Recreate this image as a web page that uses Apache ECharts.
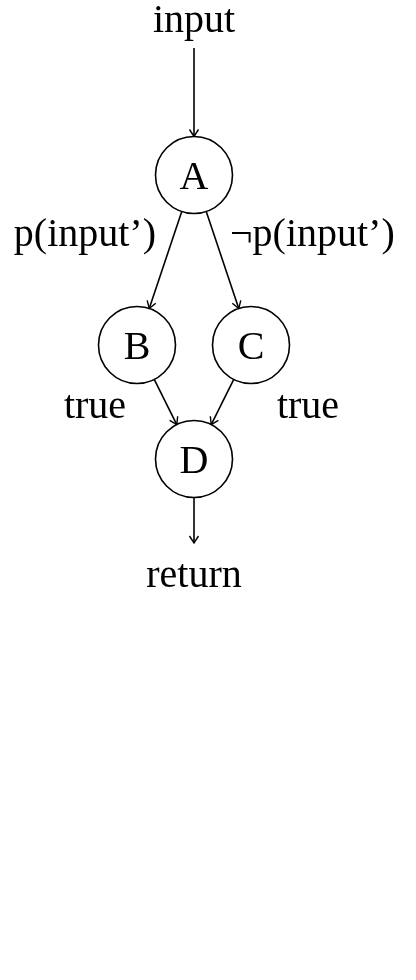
<!DOCTYPE html>
<html>
<head>
    <meta charset="utf-8">
    <title>flow</title>
    <script src="https://cdn.jsdelivr.net/npm/echarts@6/dist/echarts.min.js"></script>
    <style>
        html, body { margin: 0; padding: 0; background: #ffffff; }
        #chart { width: 416px; height: 980px; }
    </style>
</head>
<body>
<div id="chart"></div>
<script>
    // nodes of the flow (circles) and the two plain text ends
    var nodeNames = ['A', 'B', 'C', 'D'];
    var nodeX = [194, 137, 251, 194];
    var nodeY = [175, 345, 345, 459];

    var endNames = ['input', 'return'];
    var endX = [194, 194];
    var endY = [18, 573];

    // edges: from -> to
    var edgeFrom = ['input', 'A', 'A', 'B', 'C', 'D'];
    var edgeTo = ['A', 'B', 'C', 'D', 'D', 'return'];

    // edge labels
    var edgeLabelText = ['p(input\u2019)', '\u00acp(input\u2019)', 'true', 'true'];
    var edgeLabelX = [156, 230, 95, 308];
    var edgeLabelY = [232, 232, 404, 404];
    var edgeLabelAlign = ['right', 'left', 'center', 'center'];

    var FONT = '"Liberation Serif", "DejaVu Serif", serif';
    var FONT_SIZE = 40;
    var TEXT_SHIFT = 3;
    var R_NODE = 38.5;
    var R_END = 30;

    function findPoint(name) {
        var i = nodeNames.indexOf(name);
        if (i >= 0) return { x: nodeX[i], y: nodeY[i], r: R_NODE };
        var j = endNames.indexOf(name);
        return { x: endX[j], y: endY[j], r: R_END };
    }

    var edgeData = [];
    for (var k = 0; k < edgeFrom.length; k++) {
        var a = findPoint(edgeFrom[k]);
        var b = findPoint(edgeTo[k]);
        var dx = b.x - a.x, dy = b.y - a.y;
        var len = Math.sqrt(dx * dx + dy * dy);
        var ux = dx / len, uy = dy / len;
        edgeData.push([a.x + ux * a.r, a.y + uy * a.r, b.x - ux * b.r, b.y - uy * b.r]);
    }

    var textLabel = {
        show: true,
        position: 'inside',
        offset: [0, TEXT_SHIFT],
        color: '#000000',
        fontFamily: FONT,
        fontSize: FONT_SIZE
    };

    var chart = echarts.init(document.getElementById('chart'));

    var option = {
        backgroundColor: '#ffffff',
        animation: false,
        grid: { left: 0, right: 0, top: 0, bottom: 0 },
        xAxis: { type: 'value', min: 0, max: 416, show: false },
        yAxis: { type: 'value', min: 0, max: 980, inverse: true, show: false },
        series: [
            {
                // arrows
                type: 'custom',
                coordinateSystem: 'cartesian2d',
                data: edgeData,
                z: 1,
                renderItem: function (params, api) {
                    var p1 = api.coord([api.value(0), api.value(1)]);
                    var p2 = api.coord([api.value(2), api.value(3)]);
                    var dx = p2[0] - p1[0], dy = p2[1] - p1[1];
                    var len = Math.sqrt(dx * dx + dy * dy);
                    var ux = dx / len, uy = dy / len;
                    var hl = 7, hw = 4.5;
                    var head = [
                        [p2[0] - ux * hl - uy * hw, p2[1] - uy * hl + ux * hw],
                        [p2[0], p2[1]],
                        [p2[0] - ux * hl + uy * hw, p2[1] - uy * hl - ux * hw]
                    ];
                    return {
                        type: 'group',
                        children: [
                            {
                                type: 'line',
                                shape: { x1: p1[0], y1: p1[1], x2: p2[0], y2: p2[1] },
                                style: { stroke: '#000', lineWidth: 1.6 }
                            },
                            {
                                type: 'polyline',
                                shape: { points: head },
                                style: { stroke: '#000', lineWidth: 1.4, fill: null }
                            }
                        ]
                    };
                }
            },
            {
                // circle nodes
                type: 'scatter',
                z: 2,
                symbol: 'circle',
                symbolSize: R_NODE * 2,
                itemStyle: { color: '#ffffff', borderColor: '#000000', borderWidth: 1.6, opacity: 1 },
                label: Object.assign({}, textLabel, {
                    formatter: function (p) { return p.data[2]; }
                }),
                emphasis: { disabled: true },
                data: nodeNames.map(function (n, i) { return [nodeX[i], nodeY[i], n]; })
            },
            {
                // input / return text
                type: 'scatter',
                z: 3,
                symbolSize: 0,
                itemStyle: { opacity: 1 },
                label: Object.assign({}, textLabel, {
                    formatter: function (p) { return p.data[2]; }
                }),
                emphasis: { disabled: true },
                data: endNames.map(function (n, i) { return [endX[i], endY[i], n]; })
            },
            {
                // edge labels
                type: 'scatter',
                z: 3,
                symbolSize: 0,
                itemStyle: { opacity: 1 },
                emphasis: { disabled: true },
                data: edgeLabelText.map(function (t, i) {
                    return {
                        value: [edgeLabelX[i], edgeLabelY[i], t],
                        label: Object.assign({}, textLabel, {
                            align: edgeLabelAlign[i],
                            formatter: t
                        })
                    };
                })
            }
        ]
    };

    chart.setOption(option);

    window.onresize = function () {
        chart.resize();
    };
</script>
</body>
</html>
